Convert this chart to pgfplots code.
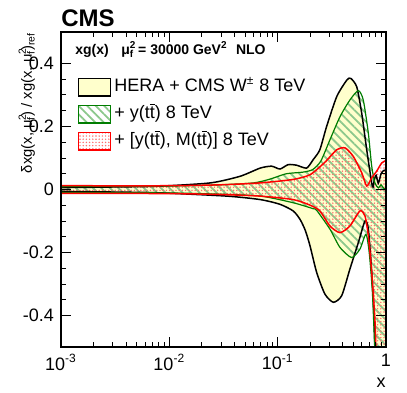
\documentclass[border=0pt]{standalone}
\usepackage{pgfplots}
\pgfplotsset{compat=1.18}
\usepgfplotslibrary{fillbetween}
\usetikzlibrary{patterns,patterns.meta}
\usepackage{fontspec}
\setmainfont{Liberation Sans}
\definecolor{bandyellow}{RGB}{255,255,204}
\definecolor{hatchgreen}{RGB}{140,200,140}
\definecolor{dotred}{RGB}{255,110,110}
\definecolor{dkgreen}{RGB}{0,125,0}
\newcommand\tbar{$\overline{\mbox{t}}$}
\newcommand\muf{μ\rlap{\textsuperscript{2}}\textsubscript{f}}

\begin{document}
\begin{tikzpicture}
\begin{axis}[
    scale only axis,
    width=162.5pt, height=157.5pt,
    set layers, axis on top,
    xmode=log,
    xmin=0.001, xmax=1,
    ymin=-0.5, ymax=0.5,
    xtick={0.001,0.01,0.1,1},
    xticklabels={10\textsuperscript{-3},10\textsuperscript{-2},10\textsuperscript{-1},1},
    ytick={-0.4,-0.2,0,0.2,0.4},
    yticklabels={-0.4,-0.2,0,0.2,0.4},
    minor y tick num=3,
    tick align=inside,
    major tick length=5pt,
    minor tick length=2.5pt,
    tick style={black, line width=0.5pt},
    axis line style={line width=0.6pt},
    ticklabel style={font=\fontsize{9}{10}\selectfont},
    legend style={at={(rel axis cs:0.05,0.856)}, anchor=north west,
        draw=none, fill=none, font=\fontsize{9}{10}\selectfont,
        row sep=4.1pt, inner sep=0pt,
        nodes={inner xsep=1.75pt, inner ysep=0pt, text height=6.9pt, text depth=2.2pt}},
    legend cell align=left,
]
% HERA + CMS W band
\addplot[name path=bu, black, line width=0.75pt, smooth, tension=0.4, forget plot] coordinates {
 (0.001,0.006) (0.003,0.008) (0.008,0.0105) (0.024,0.021) (0.045,0.042) (0.069,0.068)
 (0.088,0.074) (0.105,0.065) (0.125,0.079) (0.15,0.077) (0.185,0.068) (0.213,0.095)
 (0.245,0.126) (0.283,0.2) (0.351,0.295) (0.434,0.347) (0.472,0.353) (0.537,0.326)
 (0.597,0.242) (0.664,0.126) (0.738,0.021) (0.76,0.008) (0.78,0.03) (0.81,0.045)
 (0.85,0.02) (0.9,0.05) (0.95,0.06) (1,0.062)
};
\addplot[name path=bl, black, line width=0.75pt, smooth, tension=0.4, forget plot] coordinates {
 (0.001,-0.006) (0.003,-0.008) (0.008,-0.0105) (0.034,-0.021) (0.069,-0.032) (0.105,-0.047)
 (0.139,-0.068) (0.161,-0.095) (0.18,-0.13) (0.199,-0.179) (0.229,-0.263) (0.273,-0.332)
 (0.327,-0.358) (0.39,-0.337) (0.464,-0.253) (0.556,-0.168) (0.64,-0.1) (0.687,-0.126)
 (0.738,-0.263) (0.775,-0.4) (0.8,-0.56) (0.85,-0.7) (1,-0.8)
};
% + y(tt) band
\addplot[name path=gu, dkgreen, line width=0.6pt, smooth, tension=0.4, forget plot] coordinates {
 (0.001,0.009) (0.01,0.011) (0.03,0.015) (0.06,0.021) (0.085,0.033) (0.12,0.05)
 (0.17,0.055) (0.21,0.063) (0.25,0.09) (0.304,0.158) (0.376,0.231) (0.464,0.284)
 (0.556,0.314) (0.617,0.284) (0.687,0.179) (0.738,0.074) (0.79,0.021) (0.85,0.005)
 (0.9,0.015) (0.95,0.004) (1,0.0)
};
\addplot[name path=gl, dkgreen, line width=0.6pt, smooth, tension=0.4, forget plot] coordinates {
 (0.001,-0.009) (0.01,-0.011) (0.03,-0.015) (0.07,-0.021) (0.139,-0.042) (0.213,-0.061)
 (0.229,-0.066) (0.304,-0.126) (0.376,-0.184) (0.482,-0.216) (0.575,-0.189) (0.653,-0.142)
 (0.7,-0.2) (0.75,-0.33) (0.8,-0.56) (0.85,-0.7) (1,-0.8)
};
% + [y(tt), M(tt)] band
\addplot[name path=ru, red, line width=0.75pt, smooth, tension=0.4, forget plot] coordinates {
 (0.001,0.012) (0.01,0.012) (0.03,0.015) (0.069,0.021) (0.139,0.032) (0.199,0.047)
 (0.27,0.085) (0.351,0.126) (0.419,0.132) (0.499,0.105) (0.597,0.053) (0.664,0.011)
 (0.738,0.037) (0.82,0.058) (0.912,0.084) (1,0.092)
};
\addplot[name path=rl, red, line width=0.75pt, smooth, tension=0.4, forget plot] coordinates {
 (0.001,-0.012) (0.01,-0.013) (0.03,-0.016) (0.069,-0.021) (0.139,-0.032) (0.2,-0.05)
 (0.245,-0.068) (0.304,-0.116) (0.376,-0.137) (0.464,-0.116) (0.575,-0.068) (0.64,-0.084)
 (0.687,-0.147) (0.738,-0.263) (0.792,-0.42) (0.83,-0.6) (1,-0.8)
};
\addplot[fill=bandyellow, draw=none, forget plot] fill between[of=bu and bl];
\addplot[pattern={Lines[angle=-45,distance=3pt,line width=0.9pt]}, pattern color=hatchgreen,
    draw=none, forget plot] fill between[of=gu and gl];
\addplot[pattern={Dots[distance=1.6pt,radius=0.4pt]}, pattern color=dotred,
    draw=none, forget plot] fill between[of=ru and rl];

\addlegendimage{legend image code/.code={\draw[black, line width=0.6pt, fill=bandyellow] (0pt,-4.4pt) rectangle (16pt,4.4pt);}}
\addlegendentry{HERA + CMS W\textsuperscript{±} 8 TeV}
\addlegendimage{legend image code/.code={\draw[dkgreen, line width=0.6pt, pattern={Lines[angle=-45,distance=3pt,line width=0.9pt]}, pattern color=hatchgreen] (0pt,-4.4pt) rectangle (16pt,4.4pt);}}
\addlegendentry{+ y(t\tbar) 8 TeV}
\addlegendimage{legend image code/.code={\draw[red, line width=0.6pt, pattern={Dots[distance=1.6pt,radius=0.4pt]}, pattern color=dotred] (0pt,-4.4pt) rectangle (16pt,4.4pt);}}
\addlegendentry{+ [y(t\tbar), M(t\tbar)] 8 TeV}

\node[anchor=base west, inner sep=0pt, font=\bfseries\fontsize{7}{8}\selectfont]
  at (rel axis cs:0.043,0.927) {xg(x)\hspace{0.9em}\muf\ = 30000 GeV\textsuperscript{2}\hspace{0.6em}NLO};
\end{axis}
\node[anchor=base west, inner sep=0pt, font=\bfseries\fontsize{12}{13}\selectfont]
  at ([yshift=2.5pt]current axis.north west) {CMS};
\node[anchor=base east, inner sep=0pt, rotate=90, font=\fontsize{7.4}{9}\selectfont]
  at ([xshift=-14.5pt]current axis.north west) {δxg(x, \muf) / xg(x, \muf)\textsubscript{ref}};
\node[anchor=base east, inner sep=0pt, font=\fontsize{9}{10}\selectfont]
  at ([yshift=-20pt]current axis.south east) {x};
\pgfresetboundingbox
\path[use as bounding box] ([shift={(-30.5pt,-22.5pt)}]current axis.south west)
  rectangle ([shift={(10.5pt,16pt)}]current axis.north east);
\end{tikzpicture}
\end{document}
